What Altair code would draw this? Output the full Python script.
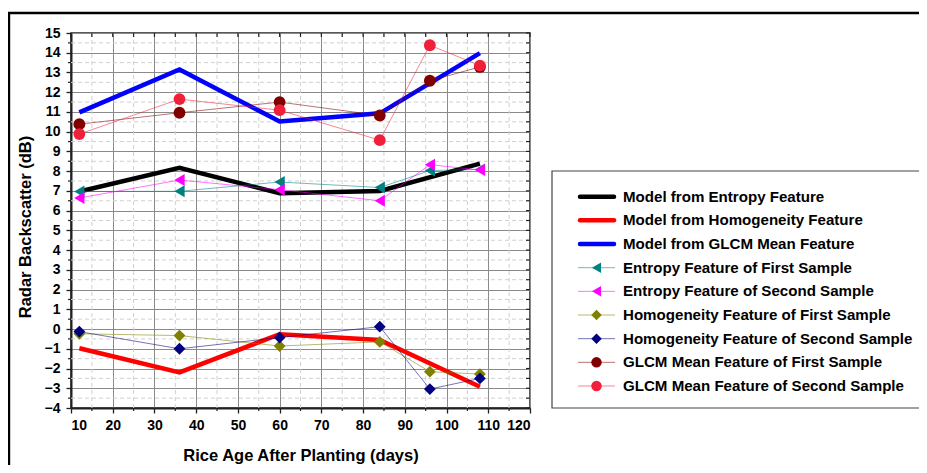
import altair as alt
import pandas as pd

# ---------------- data ----------------
days = [12, 36, 60, 84, 96, 108]
model_days = [12, 36, 60, 84, 108]

model_entropy = [6.97, 8.17, 6.88, 7.0, 8.38]
model_homog = [-0.97, -2.2, -0.26, -0.55, -2.92]
model_glcm = [10.98, 13.15, 10.52, 10.93, 13.98]

entropy_1 = [6.97, 6.98, 7.45, 7.17, 8.03, 8.09]
entropy_2 = [6.64, 7.55, 7.06, 6.5, 8.33, 8.06]
homog_1 = [-0.24, -0.33, -0.86, -0.65, -2.16, -2.28]
homog_2 = [-0.13, -1.0, -0.43, 0.12, -3.04, -2.5]
glcm_1 = [10.38, 10.96, 11.5, 10.82, 12.58, 13.28]
glcm_2 = [9.88, 11.65, 11.09, 9.57, 14.38, 13.35]

model_names = ["Model from Entropy Feature", "Model from Homogeneity Feature",
               "Model from GLCM Mean Feature"]
sample_names = ["Entropy Feature of First Sample", "Entropy Feature of Second Sample",
                "Homogeneity Feature of First Sample", "Homogeneity Feature of Second Sample",
                "GLCM Mean Feature of First Sample", "GLCM Mean Feature of Second Sample"]
all_names = model_names + sample_names
colors = ["#000000", "#ff0000", "#0000ff", "#008080", "#ff00ff",
          "#808000", "#000080", "#800000", "#f0203a"]
shapes = ["triangle-left", "triangle-left", "diamond", "diamond", "circle", "circle"]

x_ticks = list(range(10, 121, 10))
y_ticks = list(range(-4, 16))
x_minor = list(range(15, 120, 10))
y_minor = [v + 0.5 for v in range(-4, 15)]
x_all_ticks = list(range(10, 121, 5))
y_all_ticks = [v / 2 for v in range(-8, 31)]

# ---------------- tables ----------------
model_rows = []
for name, vals in zip(model_names, [model_entropy, model_homog, model_glcm]):
    for d, v in zip(model_days, vals):
        model_rows.append({"series": name, "day": d, "value": v})
model_df = pd.DataFrame(model_rows)

sample_rows = []
for name, vals in zip(sample_names, [entropy_1, entropy_2, homog_1, homog_2, glcm_1, glcm_2]):
    for d, v in zip(days, vals):
        sample_rows.append({"series": name, "day": d, "value": v})
sample_df = pd.DataFrame(sample_rows)

legend_df = pd.DataFrame({"series": all_names, "idx": list(range(len(all_names)))})
legend_df["kind"] = ["model"] * 3 + ["sample"] * 6

FONT = "Liberation Sans"
W, H = 459, 375

xs = alt.Scale(domain=[10, 120], nice=False, zero=False)
ys = alt.Scale(domain=[-4, 15], nice=False, zero=False)
color_scale = alt.Scale(domain=all_names, range=colors)
shape_scale = alt.Scale(domain=sample_names, range=shapes)

x_axis = alt.Axis(values=x_ticks, title="Rice Age After Planting (days)", grid=True,
                  gridColor="#8a8a8a", gridWidth=1, tickSize=5, tickColor="#222",
                  tickWidth=1.3, domainColor="#222", domainWidth=2, labelFont=FONT,
                  labelFontSize=14, labelFontWeight="bold", labelColor="#000",
                  labelPadding=5, labelOverlap=False, titleFont=FONT,
                  titleFontSize=16.5, titleFontWeight="bold", titleColor="#000",
                  titleY=47, titleBaseline="middle")
y_axis = alt.Axis(values=y_ticks, title="Radar Backscatter (dB)", grid=True,
                  gridColor="#8a8a8a", gridWidth=1, tickSize=5, tickColor="#222",
                  tickWidth=1.3, domainColor="#222", domainWidth=2, labelFont=FONT,
                  labelFontSize=14, labelFontWeight="bold", labelColor="#000",
                  labelPadding=6, labelOverlap=False, titleFont=FONT,
                  titleFontSize=16.5, titleFontWeight="bold", titleColor="#000",
                  titleX=-46, titleY=H / 2 + 6, titleAngle=-90, titleAlign="center",
                  titleBaseline="middle")

# minor dashed grid
minor_x = alt.Chart(pd.DataFrame({"day": x_minor})).mark_rule(
    color="#d0d0d0", strokeWidth=1, strokeDash=[4, 3]
).encode(x=alt.X("day:Q", scale=xs, axis=x_axis))
minor_y = alt.Chart(pd.DataFrame({"value": y_minor})).mark_rule(
    color="#d0d0d0", strokeWidth=1, strokeDash=[4, 3]
).encode(y=alt.Y("value:Q", scale=ys, axis=y_axis))

# minor outward ticks (bottom / left) and inward ticks (top / right)
tick_style = dict(color="#222", strokeWidth=1.2)
minor_tick_b = alt.Chart(pd.DataFrame({"day": x_minor})).mark_rule(**tick_style).encode(
    x=alt.X("day:Q", scale=xs, axis=x_axis), y=alt.value(H), y2=alt.value(H + 3))
minor_tick_l = alt.Chart(pd.DataFrame({"value": y_minor})).mark_rule(**tick_style).encode(
    y=alt.Y("value:Q", scale=ys, axis=y_axis), x=alt.value(0), x2=alt.value(-3))
tick_t = alt.Chart(pd.DataFrame({"day": x_all_ticks})).mark_rule(**tick_style).encode(
    x=alt.X("day:Q", scale=xs, axis=x_axis), y=alt.value(0), y2=alt.value(4))
tick_r = alt.Chart(pd.DataFrame({"value": y_all_ticks})).mark_rule(**tick_style).encode(
    y=alt.Y("value:Q", scale=ys, axis=y_axis), x=alt.value(W), x2=alt.value(W - 4))

model_lines = alt.Chart(model_df).mark_line(strokeWidth=4.5, strokeJoin="miter").encode(
    x=alt.X("day:Q", scale=xs, axis=x_axis),
    y=alt.Y("value:Q", scale=ys, axis=y_axis),
    color=alt.Color("series:N", scale=color_scale, legend=None),
    detail="series:N",
)
sample_lines = alt.Chart(sample_df).mark_line(strokeWidth=1, opacity=0.55).encode(
    x=alt.X("day:Q", scale=xs, axis=x_axis),
    y=alt.Y("value:Q", scale=ys, axis=y_axis),
    color=alt.Color("series:N", scale=color_scale, legend=None),
    detail="series:N",
)
sample_points = alt.Chart(sample_df).mark_point(filled=True, opacity=1, size=140).encode(
    x=alt.X("day:Q", scale=xs, axis=x_axis),
    y=alt.Y("value:Q", scale=ys, axis=y_axis),
    color=alt.Color("series:N", scale=color_scale, legend=None),
    shape=alt.Shape("series:N", scale=shape_scale, legend=None),
)

main = alt.layer(minor_x, minor_y, minor_tick_b, minor_tick_l, tick_t, tick_r,
                 model_lines, sample_lines, sample_points)

# ---------------- legend & frame ----------------
ly = alt.Scale(domain=[0, 8], range=[163.7, 353])
one = pd.DataFrame({"k": [0]})

frame = alt.Chart(one).mark_rect(fill=None, stroke="#000", strokeWidth=2.4).encode(
    x=alt.value(-62), x2=alt.value(900), y=alt.value(-20), y2=alt.value(460))
box = alt.Chart(one).mark_rect(fill="white", stroke="#444", strokeWidth=1.2).encode(
    x=alt.value(481), x2=alt.value(900), y=alt.value(138), y2=alt.value(375))

leg_model = alt.Chart(legend_df).transform_filter("datum.kind == 'model'").mark_rule(
    strokeWidth=4.5, strokeCap="round").encode(
    x=alt.value(509), x2=alt.value(543),
    y=alt.Y("idx:Q", scale=ly, axis=None),
    color=alt.Color("series:N", scale=color_scale, legend=None),
)
leg_sample = alt.Chart(legend_df).transform_filter("datum.kind == 'sample'").mark_rule(
    strokeWidth=1, opacity=0.55).encode(
    x=alt.value(507), x2=alt.value(544),
    y=alt.Y("idx:Q", scale=ly, axis=None),
    color=alt.Color("series:N", scale=color_scale, legend=None),
)
leg_pts = alt.Chart(legend_df).transform_filter("datum.kind == 'sample'").mark_point(
    filled=True, opacity=1, size=110).encode(
    x=alt.value(525.5),
    y=alt.Y("idx:Q", scale=ly, axis=None),
    color=alt.Color("series:N", scale=color_scale, legend=None),
    shape=alt.Shape("series:N", scale=shape_scale, legend=None),
)
leg_text = alt.Chart(legend_df).mark_text(
    align="left", baseline="middle", font=FONT, fontSize=15.1, fontWeight="bold",
    color="#000").encode(
    x=alt.value(552),
    y=alt.Y("idx:Q", scale=ly, axis=None),
    text="series:N",
)

legend = alt.layer(frame, box, leg_model, leg_sample, leg_pts, leg_text)

chart = alt.layer(main, legend).resolve_scale(
    x="independent", y="independent"
).properties(
    width=W, height=H,
    autosize=alt.AutoSizeParams(type="none"),
    padding={"left": 63, "top": 25, "right": 389, "bottom": 57},
    background="white",
).configure_view(stroke="#222", strokeWidth=1.5)

chart.save("out.html", embed_options={"renderer": "svg", "actions": False})
